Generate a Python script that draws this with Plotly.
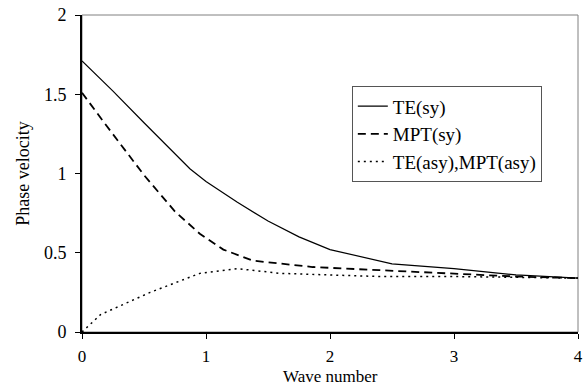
import plotly.graph_objects as go

te_x = [0, 0.25, 0.5, 0.75, 0.87, 1.0, 1.25, 1.5, 1.75, 2.0, 2.5, 3.0, 3.5, 4.0]
te_y = [1.71, 1.52, 1.32, 1.12, 1.03, 0.95, 0.82, 0.70, 0.60, 0.52, 0.43, 0.40, 0.36, 0.34]

mpt_x = [0, 0.17, 0.5, 0.75, 0.95, 1.14, 1.38, 1.86, 2.4, 3.0, 3.5, 4.0]
mpt_y = [1.51, 1.33, 0.99, 0.76, 0.62, 0.52, 0.45, 0.41, 0.39, 0.37, 0.35, 0.34]

asy_x = [0, 0.15, 0.55, 0.95, 1.25, 1.6, 2.4, 3.0, 4.0]
asy_y = [0, 0.11, 0.25, 0.37, 0.40, 0.37, 0.35, 0.35, 0.34]

x_ticks = [0, 1, 2, 3, 4]
y_ticks = [0, 0.5, 1, 1.5, 2]
y_labels = ["0", "0.5", "1", "1.5", "2"]

font = "Liberation Serif, Times New Roman, serif"

fig = go.Figure()
fig.add_trace(go.Scatter(x=te_x, y=te_y, mode="lines", name="TE(sy)",
                         line=dict(color="black", width=1.2)))
fig.add_trace(go.Scatter(x=mpt_x, y=mpt_y, mode="lines", name="MPT(sy)",
                         line=dict(color="black", width=1.8, dash="8px,5px")))
fig.add_trace(go.Scatter(x=asy_x, y=asy_y, mode="lines", name="TE(asy),MPT(asy)",
                         line=dict(color="black", width=1.5, dash="2px,4px")))

fig.add_shape(type="rect", xref="paper", yref="paper", x0=0, y0=0, x1=1, y1=1,
              line=dict(color="#808080", width=1), layer="below")

fig.add_annotation(text="Wave number", xref="paper", yref="paper", x=0.5, y=-0.139,
                   xanchor="center", yanchor="middle", showarrow=False,
                   font=dict(family=font, size=17, color="black"))

fig.update_layout(
    width=586, height=388,
    margin=dict(l=82, r=8, t=15, b=56, autoexpand=False),
    plot_bgcolor="white", paper_bgcolor="white",
    font=dict(family=font, size=18, color="black"),
    showlegend=True,
    legend=dict(x=0.544, y=0.775, xanchor="left", yanchor="top",
                bordercolor="#555555", borderwidth=1, bgcolor="white",
                font=dict(family=font, size=19)),
    xaxis=dict(range=[0, 4], tickvals=x_ticks, ticks="outside", ticklen=5,
               tickcolor="black", showline=True, linecolor="black", linewidth=2,
               showgrid=False, zeroline=False, ticklabelstandoff=3,
               tickfont=dict(family=font, size=17),
               automargin=False),
    yaxis=dict(range=[0, 2], tickvals=y_ticks, ticktext=y_labels, ticks="outside",
               ticklen=5, tickcolor="black", showline=True, linecolor="black",
               linewidth=2, showgrid=False, zeroline=False, ticklabelstandoff=5,
               automargin=False,
               title=dict(text="Phase velocity", standoff=10,
                          font=dict(family=font, size=18))),
)

fig.write_html("out.html")
